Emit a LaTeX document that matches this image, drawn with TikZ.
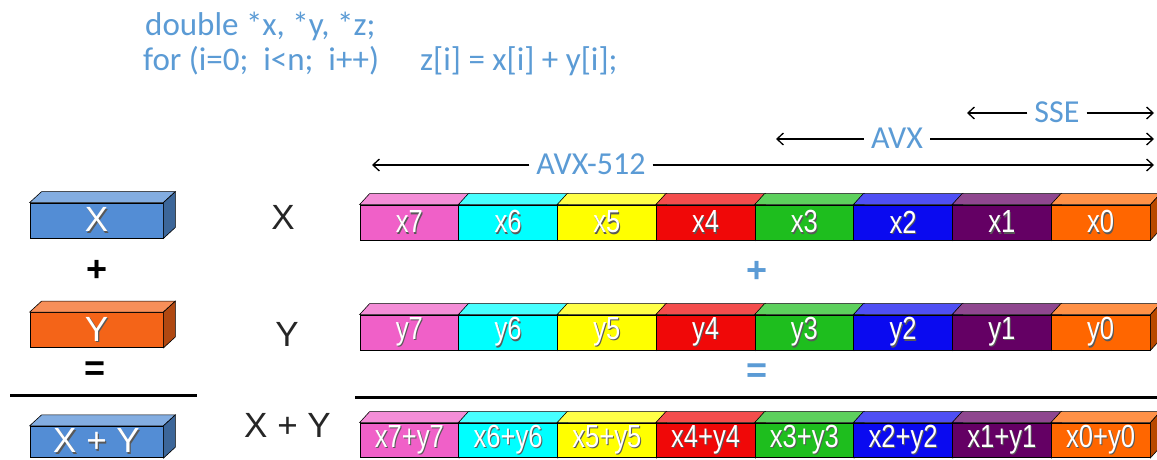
\documentclass[tikz,border=0pt]{standalone}
\usepackage{fontspec}
\usepackage{graphicx}
\usetikzlibrary{arrows.meta}
\newfontfamily\arf{Liberation Sans}
\newfontfamily\calf{Carlito}
\definecolor{codeblue}{RGB}{91,155,213}
\definecolor{boxblue}{RGB}{83,141,213}
\definecolor{boxorange}{RGB}{244,100,24}
\definecolor{cpink}{RGB}{240,96,200}
\definecolor{ccyan}{RGB}{0,255,255}
\definecolor{cyellow}{RGB}{255,255,0}
\definecolor{cred}{RGB}{240,8,8}
\definecolor{cgreen}{RGB}{30,190,30}
\definecolor{cblue}{RGB}{10,10,240}
\definecolor{cpurple}{RGB}{100,0,100}
\definecolor{corange}{RGB}{255,102,0}
\newcommand\shd[1]{\makebox[0pt][l]{\kern1.3pt\raisebox{-1.3pt}{\textcolor{black!65}{#1}}}#1}
\newcommand\cx[1]{\scalebox{0.8}[1]{\shd{#1}}}
\newcommand\faces[3]{%
  \filldraw[draw=black, line width=0.6pt, fill=#2!72!white] (#1.north west) -- ++(#3,-11) -- ([shift={(#3,-11)}]#1.north east) -- (#1.north east) -- cycle;
  \filldraw[draw=black, line width=0.6pt, fill=#2!72!black] (#1.north east) -- ++(#3,-11) -- ([shift={(#3,-11)}]#1.south east) -- (#1.south east) -- cycle;}
\tikzset{
  cell/.style={draw=black, line width=0.8pt, minimum width=98.75pt, minimum height=35pt, inner sep=0pt, text=white, font=\arf\fontsize{32}{32}\selectfont},
  bigbox/.style={draw=black, line width=0.8pt, minimum width=133pt, minimum height=35pt, inner sep=0pt, text=white, font=\arf\fontsize{35}{35}\selectfont},
  code/.style={anchor=base west, inner sep=0pt, text=codeblue, font=\calf\fontsize{33}{33}\selectfont},
  lab/.style={inner sep=7pt, text=codeblue, font=\calf\fontsize{32}{32}\selectfont},
  mid/.style={inner sep=0pt, text=black!85, font=\arf\fontsize{35}{35}\selectfont},
  op/.style={inner sep=0pt, font=\arf\bfseries\fontsize{36}{36}\selectfont},
  arr/.style={-{Straight Barb[length=6.5pt,width=12pt]}, line width=1.3pt, black},
  rule/.style={line width=3pt, black}
}
\begin{document}
\begin{tikzpicture}[x=1pt,y=-1pt]
\useasboundingbox (0,0) rectangle (1157,459);
\fill[white] (0,0) rectangle (1157,459);
% code
\node[code] (c1) at (145,35) {double *x, *y, *z;};
\node[code] (c2) at (143,70) {for (i=0;\ \ i<n;\ \ i++)};
\node[code] (c3) at (420,70) {z[i] = x[i] + y[i];};
% width arrows
\node[lab] (sse) at (1057,112) {SSE};
\coordinate (sseL) at (967,113);
\coordinate (sseR) at (1154,113);
\draw[arr] (sse.west |- sseL) -- (sseL);
\draw[arr] (sse.east |- sseR) -- (sseR);
\node[lab] (avx) at (897,138) {AVX};
\coordinate (avxL) at (776,139);
\coordinate (avxR) at (1154,139);
\draw[arr] (avx.west |- avxL) -- (avxL);
\draw[arr] (avx.east |- avxR) -- (avxR);
\node[lab] (avx5) at (591,164) {AVX-512};
\coordinate (avx5L) at (372,165);
\coordinate (avx5R) at (1154,165);
\draw[arr] (avx5.west |- avx5L) -- (avx5L);
\draw[arr] (avx5.east |- avx5R) -- (avx5R);
% left boxes
\node[bigbox, fill=boxblue] (bx) at (96.5,220.5) {\shd{X}};
\faces{bx}{boxblue}{12}
\node[op] (plusL) at (97,271) {+};
\node[bigbox, fill=boxorange] (by) at (96.5,330) {\shd{Y}};
\faces{by}{boxorange}{12}
\node[op] (eqL) at (95,371) {=};
\coordinate (ruleLa) at (10,395);
\coordinate (ruleLb) at (197,395);
\draw[rule] (ruleLa) -- (ruleLb);
\node[bigbox, fill=boxblue, minimum height=31.5pt] (bz) at (96.5,442) {\raisebox{2.5pt}{\shd{X + Y}}};
\faces{bz}{boxblue}{12}
% middle labels
\node[mid] (lx) at (283,217.5) {X};
\node[mid] (ly) at (287,334) {Y};
\node[mid] (lz) at (287.5,425.5) {X + Y};
% rows
\foreach \i/\c [count=\k from 0] in {7/cpink,6/ccyan,5/cyellow,4/cred,3/cgreen,2/cblue,1/cpurple,0/corange}{
  \node[cell, fill=\c] (x\i) at ({360+98.75*(\k+0.5)},222.5) {\cx{x\i}};
  \faces{x\i}{\c}{10}
}
\node[op, text=codeblue] (plusR) at (757,272) {+};
\foreach \i/\c [count=\k from 0] in {7/cpink,6/ccyan,5/cyellow,4/cred,3/cgreen,2/cblue,1/cpurple,0/corange}{
  \node[cell, fill=\c] (y\i) at ({360+98.75*(\k+0.5)},332.5) {\cx{y\i}};
  \faces{y\i}{\c}{10}
}
\node[op, text=codeblue] (eqR) at (757,373) {=};
\coordinate (ruleRa) at (355,397);
\coordinate (ruleRb) at (1157,397);
\draw[rule] (ruleRa) -- (ruleRb);
\foreach \i/\c [count=\k from 0] in {7/cpink,6/ccyan,5/cyellow,4/cred,3/cgreen,2/cblue,1/cpurple,0/corange}{
  \node[cell, fill=\c, minimum height=34.5pt] (z\i) at ({360+98.75*(\k+0.5)},440.25) {\cx{x\i+y\i}};
  \faces{z\i}{\c}{10}
}
\end{tikzpicture}
\end{document}
